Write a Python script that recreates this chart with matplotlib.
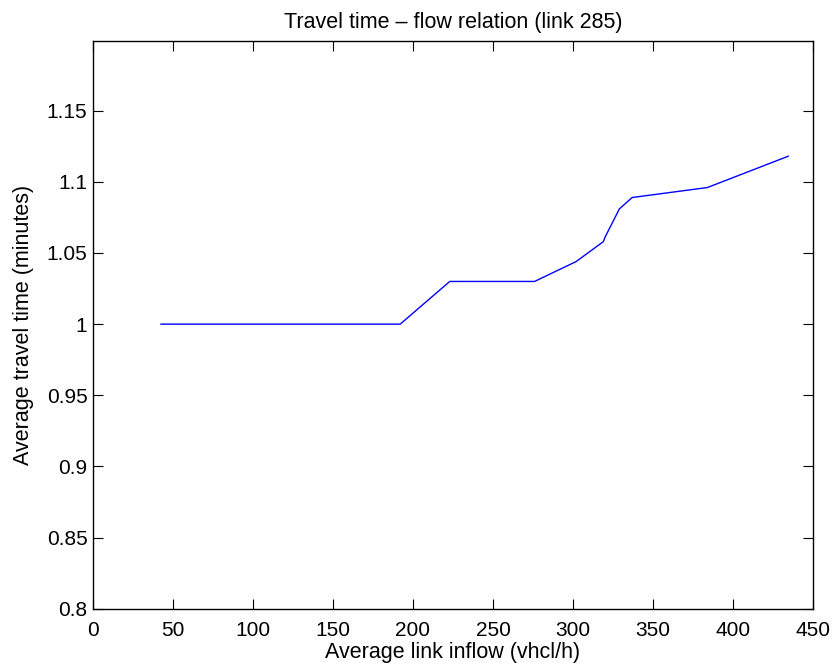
import matplotlib
matplotlib.use("Agg")
import matplotlib.pyplot as plt

# link 285 travel time vs inflow
inflow = [42.5, 192, 223, 276, 302, 319, 320, 329, 337, 384, 434.5]
travel_time = [1.0, 1.0, 1.03, 1.03, 1.044, 1.058, 1.061, 1.081, 1.089, 1.096, 1.118]
xticks = [0, 50, 100, 150, 200, 250, 300, 350, 400, 450]
yticks = [0.8, 0.85, 0.9, 0.95, 1.0, 1.05, 1.1, 1.15]
ytick_labels = ["0.8", "0.85", "0.9", "0.95", "1", "1.05", "1.1", "1.15"]

plt.rcParams['font.family'] = ['Liberation Sans', 'DejaVu Sans']

fig = plt.figure(figsize=(8.37, 6.72), dpi=100)
ax = fig.add_axes([0.1111, 0.0942, 0.8602, 0.8448])

ax.plot(inflow, travel_time, color='blue', lw=1.0)

ax.set_xlim(0, 450)
ax.set_ylim(0.8, 1.199)
ax.set_xticks(xticks)
ax.set_xticklabels([str(t) for t in xticks])
ax.set_yticks(yticks)
ax.set_yticklabels(ytick_labels)
ax.tick_params(direction='in', top=True, right=True, length=7, width=0.8, labelsize=15)
ax.tick_params(axis='x', pad=9)
ax.tick_params(axis='y', pad=4)
for s in ax.spines.values():
    s.set_linewidth(1.0)

ax.set_xlabel('Average link inflow (vhcl/h)', fontsize=15.5, labelpad=1)
ax.set_ylabel('Average travel time (minutes)', fontsize=15.5, labelpad=9)
ax.set_title('Travel time \u2013 flow relation (link 285)', fontsize=15.5, pad=9)

fig.savefig('out.png', dpi=100)
